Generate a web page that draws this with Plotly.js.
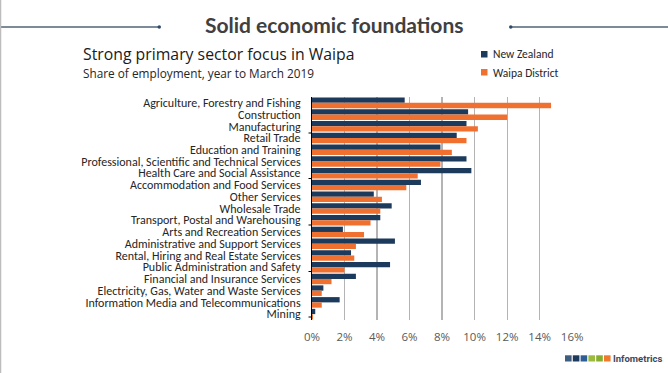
<!DOCTYPE html>
<html>
<head>
<meta charset="utf-8">
<script src="https://cdn.plot.ly/plotly-3.0.1.min.js"></script>
<style>
html,body{margin:0;padding:0;background:#fff;}
#chart{width:668px;height:373px;}
</style>
</head>
<body>
<div id="chart"></div>
<script>
const industries = [
  "Agriculture, Forestry and Fishing",
  "Construction",
  "Manufacturing",
  "Retail Trade",
  "Education and Training",
  "Professional, Scientific and Technical Services",
  "Health Care and Social Assistance",
  "Accommodation and Food Services",
  "Other Services",
  "Wholesale Trade",
  "Transport, Postal and Warehousing",
  "Arts and Recreation Services",
  "Administrative and Support Services",
  "Rental, Hiring and Real Estate Services",
  "Public Administration and Safety",
  "Financial and Insurance Services",
  "Electricity, Gas, Water and Waste Services",
  "Information Media and Telecommunications",
  "Mining"
];
// Share of employment (%), year to March 2019
const newZealand = [5.7, 9.6, 9.5, 8.9, 7.9, 9.5, 9.8, 6.7, 3.8, 4.9, 4.2, 1.9, 5.1, 2.4, 4.8, 2.7, 0.7, 1.7, 0.2];
const waipa      = [14.7, 12.0, 10.2, 9.5, 8.6, 7.9, 6.5, 5.8, 4.3, 4.2, 3.6, 3.2, 2.7, 2.6, 2.0, 1.2, 0.6, 0.6, 0.06];
const xTicks = [0, 2, 4, 6, 8, 10, 12, 14, 16];
const seriesNames = ["New Zealand", "Waipa District"];

const W = 668, H = 373;
const L = 312, R = 573, T = 97, B = 320;
const px = x => (x - L) / (R - L);
const py = y => (B - y) / (B - T);

const navy = "#1b3a5c", orange = "#f07030";
const labelFont = "Calibri, 'Lato', sans-serif";

const traces = [
  {type: "bar", orientation: "h", name: seriesNames[0], y: industries, x: newZealand,
   marker: {color: navy}, hoverinfo: "x+y"},
  {type: "bar", orientation: "h", name: seriesNames[1], y: industries, x: waipa,
   marker: {color: orange}, hoverinfo: "x+y"}
];

const lineCol = "#4f6478";
const shapes = [
  {type: "line", xref: "paper", yref: "paper", x0: px(0), x1: px(159), y0: py(27), y1: py(27), line: {color: lineCol, width: 1.5}},
  {type: "line", xref: "paper", yref: "paper", x0: px(511), x1: px(668), y0: py(27), y1: py(27), line: {color: lineCol, width: 1.5}},
  {type: "circle", xref: "paper", yref: "paper", x0: px(157.5), x1: px(161), y0: py(28.7), y1: py(25.3), fillcolor: "#2c4a6a", line: {width: 0}},
  {type: "circle", xref: "paper", yref: "paper", x0: px(509), x1: px(512.5), y0: py(28.7), y1: py(25.3), fillcolor: "#2c4a6a", line: {width: 0}},
  {type: "line", xref: "paper", yref: "paper", x0: px(0.5), x1: px(0.5), y0: py(0), y1: py(373), line: {color: "#bdbdbd", width: 1.5}},
  // legend keys
  {type: "rect", xref: "paper", yref: "paper", x0: px(481), x1: px(487.5), y0: py(51), y1: py(57.5), fillcolor: navy, line: {width: 0}},
  {type: "rect", xref: "paper", yref: "paper", x0: px(481), x1: px(487.5), y0: py(69), y1: py(75.5), fillcolor: orange, line: {width: 0}}
];
// small tick marks on the category axis
[133, 178.5, 225, 271.5, 317].forEach(y => {
  shapes.push({type: "line", xref: "paper", yref: "paper", x0: px(308.5), x1: px(312), y0: py(y), y1: py(y), line: {color: "#000", width: 1}});
});
// logo squares
const logoCols = ["#3f5d7e", "#1e3b5e", "#2f5d96", "#9bbb3c", "#86ad2e", "#ef7a2e"];
logoCols.forEach((c, i) => {
  const x0 = 565 + i * 7.8;
  shapes.push({type: "rect", xref: "paper", yref: "paper", x0: px(x0), x1: px(x0 + 6.6), y0: py(355.3), y1: py(361.5), fillcolor: c, line: {width: 0}});
});

const annotations = [
  {text: "<b>Solid economic foundations</b>", xref: "paper", yref: "paper", x: px(334), y: py(25), xanchor: "center", yanchor: "middle", showarrow: false,
   font: {family: "'Lato', 'DejaVu Sans', sans-serif", size: 21, color: "#404040"}},
  {text: "Strong primary sector focus in Waipa", xref: "paper", yref: "paper", x: px(81), y: py(53.5), xanchor: "left", yanchor: "middle", showarrow: false,
   font: {family: "'Open Sans', sans-serif", size: 15.8, color: "#1a1a1a"}},
  {text: "Share of employment, year to March 2019", xref: "paper", yref: "paper", x: px(81), y: py(72.5), xanchor: "left", yanchor: "middle", showarrow: false,
   font: {family: "'Open Sans', sans-serif", size: 11.8, color: "#262626"}},
  {text: seriesNames[0], xref: "paper", yref: "paper", x: px(491), y: py(54), xanchor: "left", yanchor: "middle", showarrow: false,
   font: {family: labelFont, size: 11.5, color: "#262626"}},
  {text: seriesNames[1], xref: "paper", yref: "paper", x: px(491), y: py(72.5), xanchor: "left", yanchor: "middle", showarrow: false,
   font: {family: labelFont, size: 11.5, color: "#262626"}},
  {text: "<b>Infometrics</b>", xref: "paper", yref: "paper", x: px(611), y: py(358.5), xanchor: "left", yanchor: "middle", showarrow: false,
   font: {family: "'Roboto', sans-serif", size: 9.5, color: "#3b4a5c"}}
];

const layout = {
  width: W, height: H,
  margin: {l: L, r: W - R, t: T, b: H - B, pad: 0},
  paper_bgcolor: "#ffffff", plot_bgcolor: "#ffffff",
  barmode: "group", bargap: 0.1, bargroupgap: 0,
  showlegend: false,
  xaxis: {
    range: [0, 16.05], tickvals: xTicks, ticktext: xTicks.map(v => v + "%"),
    showgrid: true, gridcolor: "#b4b4b4", gridwidth: 1.2,
    zeroline: false, showline: false, ticks: "",
    tickfont: {family: "'Open Sans', sans-serif", size: 11.5, color: "#595959"},
    ticklabelstandoff: 8, fixedrange: true
  },
  yaxis: {
    autorange: "reversed", type: "category",
    tickmode: "array", tickvals: industries, ticktext: industries,
    showgrid: false, zeroline: false,
    showline: true, linecolor: "#000000", linewidth: 1,
    ticks: "", ticklabelstandoff: 8,
    tickfont: {family: labelFont, size: 12, color: "#262626"},
    fixedrange: true
  },
  shapes: shapes,
  annotations: annotations
};

Plotly.newPlot("chart", traces, layout, {displayModeBar: false, staticPlot: true});
</script>
</body>
</html>
